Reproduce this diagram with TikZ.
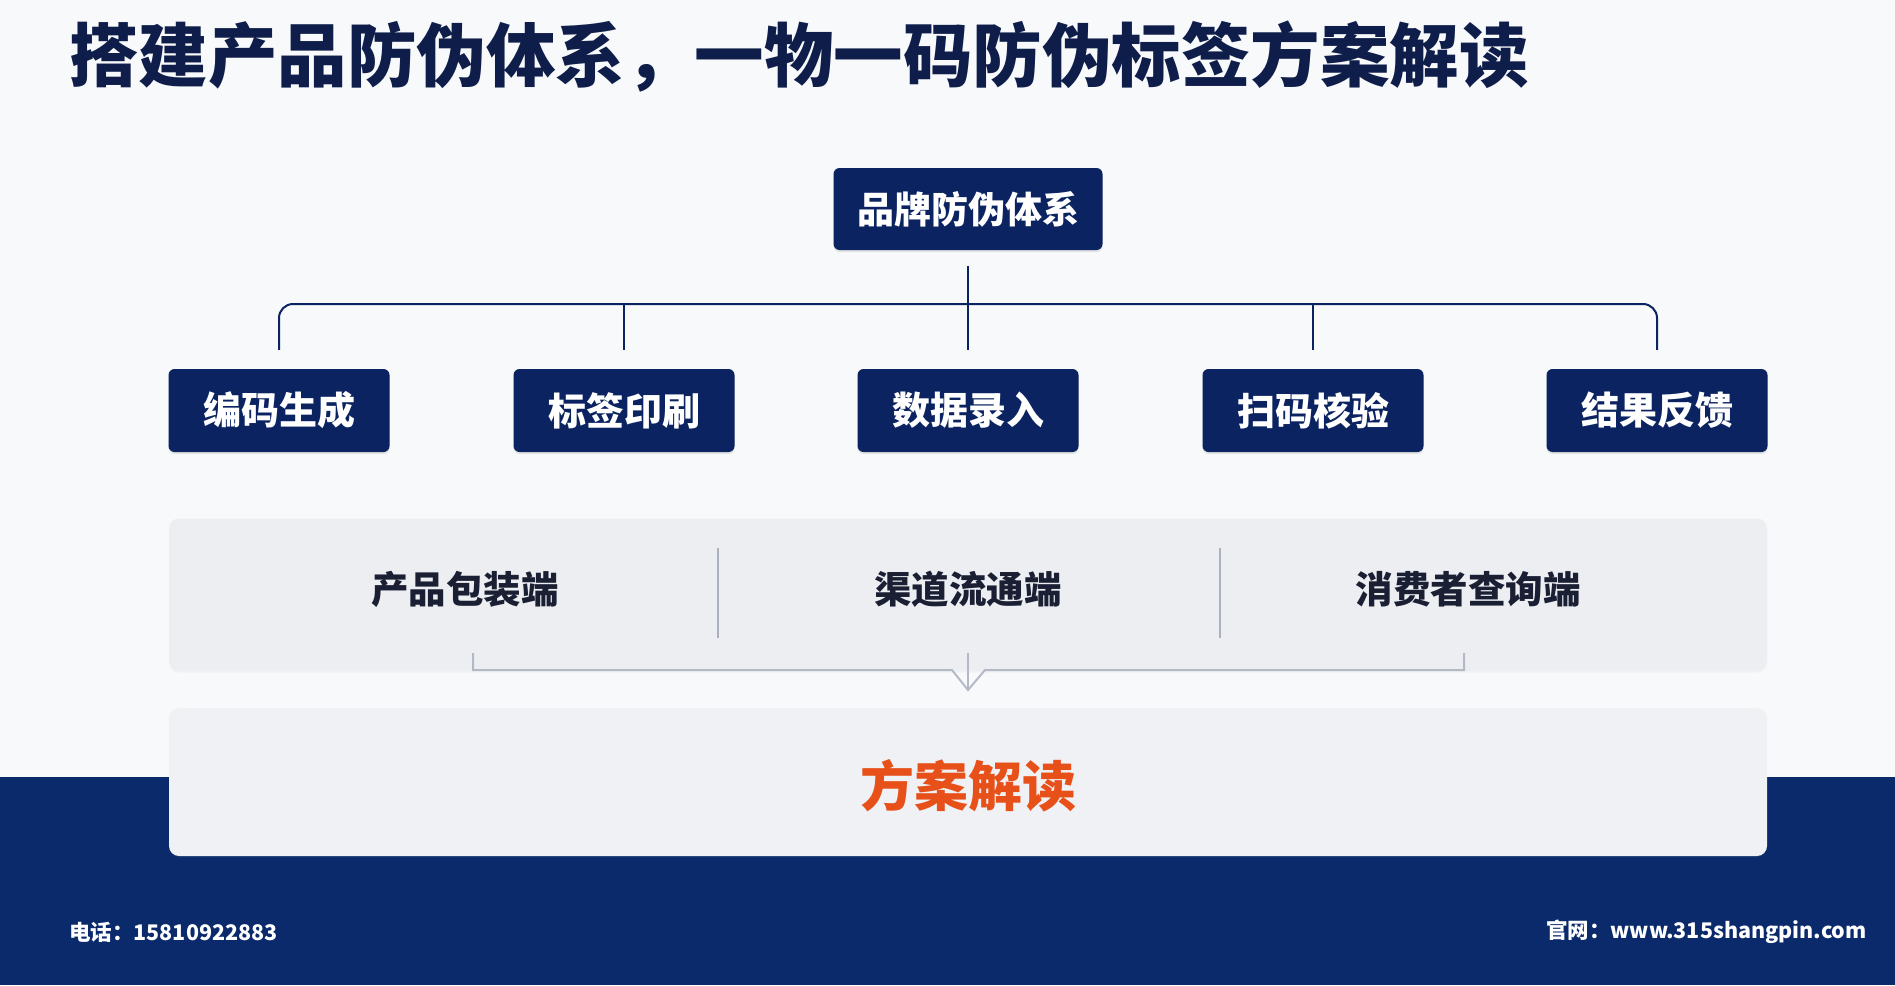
\documentclass[tikz,border=0pt]{standalone}
\usepackage{fontspec}
\setmainfont{Noto Sans CJK SC}
\usetikzlibrary{calc,shadows}
\definecolor{navy}{HTML}{0B2360}
\definecolor{band}{HTML}{0A2A6C}
\definecolor{titlec}{HTML}{0E1D4A}
\definecolor{panelc}{HTML}{ECEEF2}
\definecolor{panelb}{HTML}{EFF1F4}
\definecolor{divc}{HTML}{A9B0BE}
\definecolor{brc}{HTML}{B4BAC5}
\definecolor{orangec}{HTML}{E8501A}
\definecolor{bgc}{HTML}{F8F9FA}
\definecolor{textc}{HTML}{1B1F33}
\begin{document}
\begin{tikzpicture}[x=1pt,y=-1pt,
  navybox/.style={fill=navy,rounded corners=6pt,minimum width=221pt,minimum height=83pt,
    text=white,font=\bfseries\fontsize{38}{40}\selectfont,inner sep=0pt,
    drop shadow={opacity=0.18,shadow xshift=0pt,shadow yshift=-2pt}},
  conn/.style={draw=navy,line width=2pt},
  panelbox/.style={fill=panelc,rounded corners=10pt,minimum width=1598pt,inner sep=0pt,
    drop shadow={opacity=0.06,shadow xshift=0pt,shadow yshift=-2pt}},
  paneltext/.style={text=textc,font=\bfseries\fontsize{37.5}{40}\selectfont,inner sep=0pt},
  divline/.style={draw=divc,line width=1.2pt},
  brline/.style={draw=brc,line width=2pt},
  foot/.style={text=white,font=\bfseries\fontsize{21.5}{24}\selectfont,inner sep=0pt}]
\useasboundingbox (0,0) rectangle (1895,985);
\fill[bgc] (0,0) rectangle (1895,985);
\fill[band] (0,777) rectangle (1895,985);
% title
\node[anchor=west,text=titlec,font=\bfseries\fontsize{69.5}{72}\selectfont,inner sep=0pt] (title) at (69,57) {搭建产品防伪体系，一物一码防伪标签方案解读};
% root
\node[navybox,minimum width=269pt,minimum height=82pt,font=\bfseries\fontsize{37}{40}\selectfont] (root) at (968,209) {品牌防伪体系};
% children
\node[navybox] (b1) at (279,410.5) {编码生成};
\node[navybox] (b2) at (624,410.5) {标签印刷};
\node[navybox] (b3) at (968,410.5) {数据录入};
\node[navybox] (b4) at (1313,410.5) {扫码核验};
\node[navybox] (b5) at (1657,410.5) {结果反馈};
% connectors
\coordinate (bus) at (968,304);
\draw[conn] ($(root.south)+(0,16)$) -- ($(b3.north)+(0,-19)$);
\draw[conn,rounded corners=14pt] ($(b1.north)+(0,-19)$) |- (bus) -| ($(b5.north)+(0,-19)$);
\draw[conn] ($(b2.north)+(0,-19)$) -- (b2.north |- bus);
\draw[conn] ($(b4.north)+(0,-19)$) -- (b4.north |- bus);
% middle panel
\node[panelbox,minimum height=152pt] (mid) at (968,594.5) {};
\node[paneltext] (m1) at (465,589) {产品包装端};
\node[paneltext] (m2) at (968,589) {渠道流通端};
\node[paneltext] (m3) at (1468,589) {消费者查询端};
\draw[divline] (718,548) -- (718,638);
\draw[divline] (1220,548) -- (1220,638);
% bracket
\coordinate (brl) at (473,653);
\coordinate (brc) at (968,653);
\coordinate (brr) at (1464,653);
\coordinate (vtip) at (968,690);
\draw[brline] (brl) -- (473,670) -- (952,670) -- (vtip) -- (985,670) -- (1464,670) -- (brr);
\draw[brline] (brc) -- (vtip);
% lower panel
\node[panelbox,fill=panelb,minimum height=148pt] (low) at (968,782) {};
\node[text=orangec,font=\bfseries\fontsize{54}{56}\selectfont,inner sep=0pt] (res) at (968,786) {方案解读};
% footer
\node[foot,anchor=west] (tel) at (69,932) {电话：15810922883};
\node[foot,anchor=east] (web) at (1867,932) {官网：www.315shangpin.com};
\end{tikzpicture}
\end{document}
